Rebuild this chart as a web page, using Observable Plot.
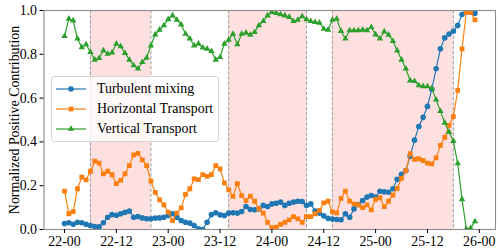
<!DOCTYPE html>
<html><head><meta charset="utf-8">
<script src="https://cdn.jsdelivr.net/npm/d3@7"></script>
<script src="https://cdn.jsdelivr.net/npm/@observablehq/plot@0.6"></script>
<style>
body{margin:0;background:#fff;}
#wrap{position:relative;width:500px;height:250px;font-family:"Liberation Serif","Times New Roman",Times,serif;}
.legend{position:absolute;left:51px;top:76px;width:168px;height:66px;box-sizing:border-box;background:rgba(255,255,255,0.8);border:1px solid #d4d4d4;border-radius:3px;}
.row{position:absolute;left:0;height:20px;display:flex;align-items:center;font-size:13.9px;color:#000;white-space:nowrap;}
.row svg{margin-left:4px;margin-right:11px;}
</style></head><body><div id="wrap"></div>
<script>
const turbulent = [0.027,0.031,0.024,0.033,0.031,0.024,0.018,0.014,0.012,0.031,
0.056,0.068,0.065,0.072,0.078,0.084,0.056,0.059,0.053,0.049,
0.049,0.052,0.053,0.056,0.064,0.072,0.056,0.041,0.033,0.029,
0.018,0.003,0.000,0.033,0.068,0.076,0.067,0.064,0.075,0.076,
0.075,0.082,0.105,0.091,0.090,0.094,0.110,0.105,0.117,0.120,
0.125,0.110,0.120,0.125,0.129,0.128,0.110,0.117,0.084,0.075,
0.062,0.051,0.048,0.046,0.044,0.072,0.056,0.094,0.114,0.132,
0.148,0.155,0.148,0.175,0.172,0.170,0.186,0.229,0.252,0.269,
0.335,0.408,0.470,0.512,0.562,0.640,0.734,0.825,0.875,0.893,
0.905,0.932,0.982,0.995,0.992,0.988];
const horizontal = [0.175,0.072,0.082,0.186,0.239,0.227,0.266,0.312,0.303,0.254,
0.266,0.250,0.209,0.224,0.254,0.292,0.341,0.348,0.318,0.292,
0.221,0.170,0.135,0.112,0.079,0.041,0.075,0.099,0.160,0.186,
0.231,0.228,0.251,0.243,0.251,0.292,0.277,0.213,0.181,0.151,
0.209,0.155,0.132,0.152,0.129,0.094,0.075,0.033,0.008,0.011,
0.023,0.033,0.044,0.059,0.049,0.033,0.059,0.059,0.072,0.087,
0.122,0.129,0.080,0.076,0.142,0.175,0.130,0.117,0.112,0.100,
0.112,0.090,0.138,0.145,0.104,0.129,0.157,0.188,0.233,0.269,
0.346,0.320,0.323,0.315,0.303,0.300,0.327,0.384,0.421,0.475,
0.515,0.635,0.825,0.992,0.992,0.957];
const vertical = [0.883,0.962,0.954,0.871,0.832,0.845,0.810,0.775,0.782,0.817,
0.802,0.808,0.848,0.836,0.805,0.775,0.749,0.734,0.764,0.784,
0.840,0.890,0.912,0.932,0.960,0.977,0.957,0.936,0.893,0.871,
0.840,0.848,0.830,0.825,0.814,0.775,0.787,0.848,0.866,0.893,
0.845,0.893,0.898,0.889,0.901,0.932,0.951,0.977,0.992,0.988,
0.982,0.977,0.970,0.951,0.957,0.973,0.959,0.951,0.947,0.944,
0.916,0.912,0.957,0.962,0.906,0.871,0.909,0.909,0.909,0.912,
0.909,0.924,0.890,0.871,0.904,0.889,0.860,0.817,0.775,0.734,
0.680,0.677,0.658,0.654,0.653,0.645,0.593,0.540,0.487,0.445,
0.404,0.302,0.138,0.002,0.006,0.037];
const seriesNames = ["Turbulent mixing", "Horizontal Transport", "Vertical Transport"];
const seriesColors = ["#1f77b4", "#ff7f0e", "#2ca02c"];
const seriesSymbols = ["circle", "square", "triangle"];
const seriesR = [2.8, 2.7, 2.4];
const shadeStart = [6, 38, 62];
const shadeEnd = [20, 56, 90];
const xTickHours = [0, 12, 24, 36, 48, 60, 72, 84, 96];
const xTickLabels = ["22-00", "22-12", "23-00", "23-12", "24-00", "24-12", "25-00", "25-12", "26-00"];
const yTicks = [0, 0.2, 0.4, 0.6, 0.8, 1.0];
const yLabel = "Normalized Positive Contribution";

const seriesValues = [turbulent, horizontal, vertical];
const spans = shadeStart.map((s, i) => ({start: s, end: shadeEnd[i]}));
const edges = shadeStart.concat(shadeEnd);

const seriesMarks = seriesValues.flatMap((vals, k) => {
  const data = vals.map((v, i) => ({h: i, v}));
  return [
    Plot.line(data, {x: "h", y: "v", stroke: seriesColors[k], strokeWidth: 1.2, clip: true}),
    Plot.dot(data, {x: "h", y: "v", fill: seriesColors[k], stroke: "none", symbol: seriesSymbols[k], r: seriesR[k], clip: true})
  ];
});

const chart = Plot.plot({
  width: 500, height: 250,
  marginLeft: 43.5, marginRight: 5, marginTop: 10, marginBottom: 21,
  style: {fontFamily: "'Liberation Serif','Times New Roman',Times,serif", fontSize: "13.9px", color: "#000", background: "#fff"},
  x: {domain: [-4.75, 99.75]},
  y: {domain: [0, 1]},
  marks: [
    Plot.rect(spans, {x1: "start", x2: "end", fill: "#ff0000", fillOpacity: 0.12}),
    Plot.ruleX(edges, {stroke: "#8a8a8a", strokeOpacity: 0.8, strokeWidth: 1, strokeDasharray: "3.5,1.6"}),
    ...seriesMarks,
    Plot.frame({stroke: "#8c8c8c", strokeWidth: 1.1}),
    Plot.axisX({ticks: xTickHours, tickFormat: d => xTickLabels[xTickHours.indexOf(d)], tickSize: 4, tickPadding: 3, label: null, fontSize: 13.9}),
    Plot.axisY({ticks: yTicks, tickFormat: d3.format(".1f"), tickSize: 4, tickPadding: 3, label: yLabel, labelAnchor: "center", labelArrow: "none", labelOffset: 35, fontSize: 13.9})
  ]
});
const wrap = document.getElementById("wrap");
wrap.appendChild(chart);

// legend
const legend = document.createElement("div");
legend.className = "legend";
const rowTops = [2, 21.5, 41.5];
seriesNames.forEach((name, k) => {
  const row = document.createElement("div");
  row.className = "row";
  row.style.top = rowTops[k] + "px";
  const ns = "http://www.w3.org/2000/svg";
  const svg = document.createElementNS(ns, "svg");
  svg.setAttribute("width", 30); svg.setAttribute("height", 20);
  const ln = document.createElementNS(ns, "line");
  ln.setAttribute("x1", 0); ln.setAttribute("x2", 30); ln.setAttribute("y1", 10); ln.setAttribute("y2", 10);
  ln.setAttribute("stroke", seriesColors[k]); ln.setAttribute("stroke-width", 1.2);
  svg.appendChild(ln);
  const sym = {circle: d3.symbolCircle, square: d3.symbolSquare, triangle: d3.symbolTriangle}[seriesSymbols[k]];
  const p = document.createElementNS(ns, "path");
  p.setAttribute("d", d3.symbol(sym, Math.PI * seriesR[k] * seriesR[k])());
  p.setAttribute("transform", "translate(15,10)");
  p.setAttribute("fill", seriesColors[k]);
  svg.appendChild(p);
  row.appendChild(svg);
  const t = document.createElement("span");
  t.textContent = name;
  row.appendChild(t);
  legend.appendChild(row);
});
wrap.appendChild(legend);
</script>
</body></html>
